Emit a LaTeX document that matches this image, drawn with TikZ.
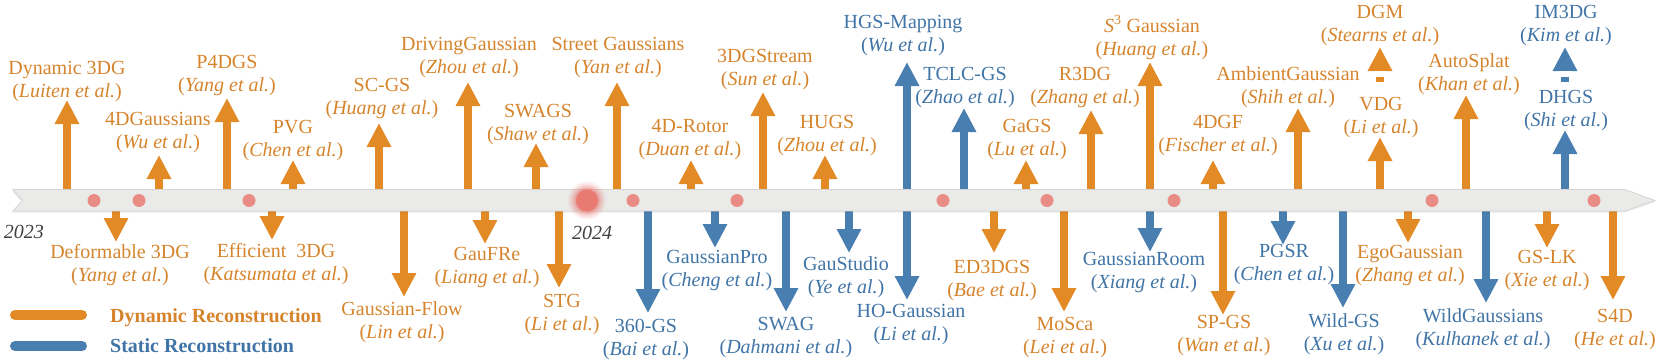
\documentclass[tikz,border=0pt]{standalone}
\usepackage{fontspec}
\setmainfont{Liberation Serif}
\usetikzlibrary{arrows.meta}
\definecolor{dyn}{RGB}{226,139,38}
\definecolor{sta}{RGB}{72,127,176}
\definecolor{dyntxt}{RGB}{214,132,44}
\definecolor{statxt}{RGB}{64,116,166}
\definecolor{barfill}{RGB}{234,235,233}
\definecolor{baredge}{RGB}{212,213,211}
\definecolor{dotc}{RGB}{234,140,134}
\definecolor{bigdot}{RGB}{232,122,114}
\definecolor{yearc}{RGB}{62,66,66}
\newcommand{\tlitem}[8]{%
  \coordinate (#1-b) at (#2,200.5);
  \coordinate (#1-t) at (#2,#3);
  \draw[arr,color=#6] (#1-b) -- (#1-t);
  \node[lbl,text=#6txt,anchor=base] (#1-n) at (#4,#5) {#7};
  \node[lbl,text=#6txt,anchor=base] (#1-a) at (#4,#5+23.5) {(\textit{#8})};
}
\begin{document}
\begin{tikzpicture}[x=1pt,y=-1pt,
  arr/.style={line width=8pt,-{Triangle[width=23pt,length=24pt]}},
  lbl/.style={inner sep=0pt,font=\fontsize{20}{24}\selectfont},
  legtxt/.style={inner sep=0pt,anchor=base west,font=\fontsize{20}{24}\selectfont\bfseries}]
\useasboundingbox (0,0) rectangle (1660,364);

% ---- upward items
\tlitem{dyn3dg}{67}{100}{67}{74}{dyn}{Dynamic 3DG}{Luiten et al.}
\tlitem{4dgs}{159}{155}{158}{125}{dyn}{4DGaussians}{Wu et al.}
\tlitem{p4dgs}{227}{98}{227}{68}{dyn}{P4DGS}{Yang et al.}
\tlitem{pvg}{293}{160}{293}{133}{dyn}{PVG}{Chen et al.}
\tlitem{scgs}{379}{123}{382}{91}{dyn}{SC-GS}{Huang et al.}
\tlitem{drivg}{468}{82}{469}{50}{dyn}{DrivingGaussian}{Zhou et al.}
\tlitem{swags}{536}{143}{538}{117}{dyn}{SWAGS}{Shaw et al.}
\tlitem{street}{617}{82}{618}{50}{dyn}{Street Gaussians}{Yan et al.}
\tlitem{rotor}{691}{160}{690}{132}{dyn}{4D-Rotor}{Duan et al.}
\tlitem{stream}{763}{92}{765}{62}{dyn}{3DGStream}{Sun et al.}
\tlitem{hugs}{825}{155}{827}{128}{dyn}{HUGS}{Zhou et al.}
\tlitem{hgsmap}{907}{62}{903}{28}{sta}{HGS-Mapping}{Wu et al.}
\tlitem{tclc}{964}{108}{965}{80}{sta}{TCLC-GS}{Zhao et al.}
\tlitem{gags}{1026}{160}{1027}{132}{dyn}{GaGS}{Lu et al.}
\tlitem{r3dg}{1091}{110}{1085}{80}{dyn}{R3DG}{Zhang et al.}
\tlitem{s3g}{1150}{62}{1152}{32}{dyn}{\textit{S}\textsuperscript{3} Gaussian}{Huang et al.}
\tlitem{4dgf}{1213}{160}{1218}{128}{dyn}{4DGF}{Fischer et al.}
\tlitem{ambient}{1298}{108}{1288}{80}{dyn}{AmbientGaussian}{Shih et al.}
\tlitem{autosplat}{1466}{95}{1469}{67}{dyn}{AutoSplat}{Khan et al.}

% ---- stacked items (arrow heads above a label)
\coordinate (dgm-b) at (1380,82);
\coordinate (dgm-t) at (1380,47);
\draw[arr,color=dyn] (dgm-b) -- (dgm-t);
\fill[white] (1374,70.5) rectangle (1386,76.5);
\node[lbl,text=dyntxt,anchor=base] (dgm-n) at (1380,18) {DGM};
\node[lbl,text=dyntxt,anchor=base] (dgm-a) at (1380,41.5) {(\textit{Stearns et al.})};
\tlitem{vdg}{1380}{137}{1381}{110}{dyn}{VDG}{Li et al.}

\coordinate (im3dg-b) at (1565,82);
\coordinate (im3dg-t) at (1565,47);
\draw[arr,color=sta] (im3dg-b) -- (im3dg-t);
\fill[white] (1559,70.5) rectangle (1571,76.5);
\node[lbl,text=statxt,anchor=base] (im3dg-n) at (1566,18) {IM3DG};
\node[lbl,text=statxt,anchor=base] (im3dg-a) at (1566,41.5) {(\textit{Kim et al.})};
\tlitem{dhgs}{1565}{130}{1566}{103}{sta}{DHGS}{Shi et al.}

% ---- downward items
\tlitem{deform}{116}{242}{120}{258}{dyn}{Deformable 3DG}{Yang et al.}
\tlitem{effic}{272}{240}{276}{257}{dyn}{Efficient\ \ 3DG}{Katsumata et al.}
\tlitem{gflow}{404}{297}{402}{315}{dyn}{Gaussian-Flow}{Lin et al.}
\tlitem{gaufre}{485}{244}{487}{260}{dyn}{GauFRe}{Liang et al.}
\tlitem{stg}{559}{288}{562}{307}{dyn}{STG}{Li et al.}
\tlitem{gs360}{648}{313}{646}{332}{sta}{360-GS}{Bai et al.}
\tlitem{gpro}{715}{248}{717}{263}{sta}{GaussianPro}{Cheng et al.}
\tlitem{swag}{786}{312}{786}{330}{sta}{SWAG}{Dahmani et al.}
\tlitem{gaustudio}{849}{253}{846}{270}{sta}{GauStudio}{Ye et al.}
\tlitem{hogs}{907}{300}{911}{317}{sta}{HO-Gaussian}{Li et al.}
\tlitem{ed3dgs}{994}{253}{992}{273}{dyn}{ED3DGS}{Bae et al.}
\tlitem{mosca}{1064}{312}{1065}{330}{dyn}{MoSca}{Lei et al.}
\tlitem{groom}{1150}{252}{1144}{265}{sta}{GaussianRoom}{Xiang et al.}
\tlitem{spgs}{1223}{315}{1224}{328}{dyn}{SP-GS}{Wan et al.}
\tlitem{pgsr}{1283}{245}{1284}{257}{sta}{PGSR}{Chen et al.}
\tlitem{wildgs}{1343}{308}{1344}{327}{sta}{Wild-GS}{Xu et al.}
\tlitem{ego}{1408}{243}{1410}{258}{dyn}{EgoGaussian}{Zhang et al.}
\tlitem{wildgau}{1486}{303}{1483}{322}{sta}{WildGaussians}{Kulhanek et al.}
\tlitem{gslk}{1547}{248}{1547}{263}{dyn}{GS-LK}{Xie et al.}
\tlitem{s4d}{1613}{300}{1615}{322}{dyn}{S4D}{He et al.}

% ---- timeline bar
\fill[black,opacity=0.08] (12,191.5) -- (1625,191.5) -- (1655,202) -- (1625,212.5) -- (12,212.5) -- (22,202) -- cycle;
\filldraw[fill=barfill,draw=baredge,line width=0.8pt]
  (13,189.5) -- (1625,189.5) -- (1655,200.5) -- (1625,211) -- (13,211) -- (22.5,200.5) -- cycle;

% ---- dots
\foreach \dx in {94,139,249,633,737,943,1047,1174,1432,1594}
  \fill[dotc] (\dx,200.5) circle[radius=6.5pt];
\foreach \r/\o in {19/0.10,17/0.15,15/0.22,13/0.35}
  \fill[bigdot,opacity=\o] (587,200.5) circle[radius=\r pt];
\fill[bigdot] (587,200.5) circle[radius=11pt];

% ---- years
\node[lbl,text=yearc,anchor=base,font=\fontsize{20}{24}\selectfont\itshape] (y2023) at (24,238) {2023};
\node[lbl,text=yearc,anchor=base,font=\fontsize{20}{24}\selectfont\itshape] (y2024) at (592,239) {2024};

% ---- legend
\draw[dyn,line width=10pt,line cap=round] (15,315) -- (82,315);
\draw[sta,line width=10pt,line cap=round] (15,346) -- (82,346);
\node[legtxt,text=dyntxt] (legdyn) at (110,322) {Dynamic Reconstruction};
\node[legtxt,text=statxt] (legsta) at (110,352) {Static Reconstruction};
\end{tikzpicture}
\end{document}
